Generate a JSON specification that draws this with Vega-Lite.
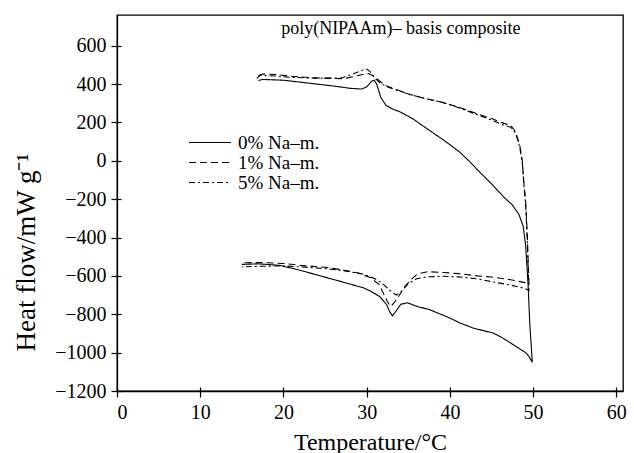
{
  "$schema": "https://vega.github.io/schema/vega-lite/v6.json",
  "width": 506,
  "height": 376,
  "autosize": {"type": "none"},
  "padding": {"left": 117, "top": 15, "right": 11, "bottom": 62},
  "background": "white",
  "config": {
    "view": {"stroke": "black", "strokeWidth": 1.3},
    "axis": {
      "grid": false,
      "domainColor": "black",
      "domainWidth": 1.3,
      "tickColor": "black",
      "tickWidth": 1.2,
      "tickSize": 6,
      "labelFont": "Liberation Serif",
      "labelFontSize": 20,
      "labelColor": "black",
      "titleFont": "Liberation Serif",
      "titleFontSize": 24,
      "titleFontWeight": "normal",
      "titleColor": "black"
    }
  },
  "layer": [
    {
      "data": {
        "values": [
          {"s": "0% Na–m.", "i": 1, "t": 17.0, "h": 418},
          {"s": "0% Na–m.", "i": 2, "t": 17.5, "h": 424},
          {"s": "0% Na–m.", "i": 3, "t": 20, "h": 420},
          {"s": "0% Na–m.", "i": 4, "t": 23, "h": 405},
          {"s": "0% Na–m.", "i": 5, "t": 26, "h": 390},
          {"s": "0% Na–m.", "i": 6, "t": 28, "h": 378},
          {"s": "0% Na–m.", "i": 7, "t": 29.4, "h": 374},
          {"s": "0% Na–m.", "i": 8, "t": 30.0, "h": 385},
          {"s": "0% Na–m.", "i": 9, "t": 30.6, "h": 415},
          {"s": "0% Na–m.", "i": 10, "t": 30.9, "h": 420},
          {"s": "0% Na–m.", "i": 11, "t": 31.2, "h": 400},
          {"s": "0% Na–m.", "i": 12, "t": 31.7, "h": 330},
          {"s": "0% Na–m.", "i": 13, "t": 32.3, "h": 290},
          {"s": "0% Na–m.", "i": 14, "t": 33, "h": 272},
          {"s": "0% Na–m.", "i": 15, "t": 34, "h": 255},
          {"s": "0% Na–m.", "i": 16, "t": 35.5, "h": 220},
          {"s": "0% Na–m.", "i": 17, "t": 37.5, "h": 160},
          {"s": "0% Na–m.", "i": 18, "t": 39.5, "h": 100},
          {"s": "0% Na–m.", "i": 19, "t": 41.2, "h": 45},
          {"s": "0% Na–m.", "i": 20, "t": 42.5, "h": -10},
          {"s": "0% Na–m.", "i": 21, "t": 43.5, "h": -55},
          {"s": "0% Na–m.", "i": 22, "t": 45, "h": -120},
          {"s": "0% Na–m.", "i": 23, "t": 46.5, "h": -190},
          {"s": "0% Na–m.", "i": 24, "t": 47.5, "h": -230},
          {"s": "0% Na–m.", "i": 25, "t": 48.3, "h": -280},
          {"s": "0% Na–m.", "i": 26, "t": 48.8, "h": -340},
          {"s": "0% Na–m.", "i": 27, "t": 49.1, "h": -440},
          {"s": "0% Na–m.", "i": 28, "t": 49.4, "h": -650},
          {"s": "0% Na–m.", "i": 29, "t": 49.6, "h": -850},
          {"s": "0% Na–m.", "i": 30, "t": 49.9, "h": -1050},
          {"s": "0% Na–m.", "i": 31, "t": 49.5, "h": -1020},
          {"s": "0% Na–m.", "i": 32, "t": 49.1, "h": -1000},
          {"s": "0% Na–m.", "i": 33, "t": 48.2, "h": -975},
          {"s": "0% Na–m.", "i": 34, "t": 47.3, "h": -950},
          {"s": "0% Na–m.", "i": 35, "t": 46.2, "h": -920},
          {"s": "0% Na–m.", "i": 36, "t": 45.2, "h": -898},
          {"s": "0% Na–m.", "i": 37, "t": 44, "h": -885},
          {"s": "0% Na–m.", "i": 38, "t": 42.8, "h": -872},
          {"s": "0% Na–m.", "i": 39, "t": 41.2, "h": -845},
          {"s": "0% Na–m.", "i": 40, "t": 40, "h": -820},
          {"s": "0% Na–m.", "i": 41, "t": 39.2, "h": -805},
          {"s": "0% Na–m.", "i": 42, "t": 37.5, "h": -775},
          {"s": "0% Na–m.", "i": 43, "t": 36.1, "h": -760},
          {"s": "0% Na–m.", "i": 44, "t": 34.9, "h": -740},
          {"s": "0% Na–m.", "i": 45, "t": 34.1, "h": -748},
          {"s": "0% Na–m.", "i": 46, "t": 33.5, "h": -785},
          {"s": "0% Na–m.", "i": 47, "t": 33.1, "h": -808},
          {"s": "0% Na–m.", "i": 48, "t": 32.8, "h": -790},
          {"s": "0% Na–m.", "i": 49, "t": 32.4, "h": -750},
          {"s": "0% Na–m.", "i": 50, "t": 31.6, "h": -709},
          {"s": "0% Na–m.", "i": 51, "t": 30.5, "h": -680},
          {"s": "0% Na–m.", "i": 52, "t": 29.6, "h": -662},
          {"s": "0% Na–m.", "i": 53, "t": 27.2, "h": -633},
          {"s": "0% Na–m.", "i": 54, "t": 23.2, "h": -585},
          {"s": "0% Na–m.", "i": 55, "t": 21, "h": -560},
          {"s": "0% Na–m.", "i": 56, "t": 19.5, "h": -545},
          {"s": "0% Na–m.", "i": 57, "t": 17, "h": -537},
          {"s": "0% Na–m.", "i": 58, "t": 15, "h": -540},

          {"s": "1% Na–m.", "i": 1, "t": 17.0, "h": 445},
          {"s": "1% Na–m.", "i": 2, "t": 17.5, "h": 452},
          {"s": "1% Na–m.", "i": 3, "t": 19, "h": 450},
          {"s": "1% Na–m.", "i": 4, "t": 21, "h": 440},
          {"s": "1% Na–m.", "i": 5, "t": 24, "h": 432},
          {"s": "1% Na–m.", "i": 6, "t": 27.2, "h": 428},
          {"s": "1% Na–m.", "i": 7, "t": 28.5, "h": 440},
          {"s": "1% Na–m.", "i": 8, "t": 29.5, "h": 450},
          {"s": "1% Na–m.", "i": 9, "t": 30.2, "h": 455},
          {"s": "1% Na–m.", "i": 10, "t": 30.7, "h": 445},
          {"s": "1% Na–m.", "i": 11, "t": 31.3, "h": 425},
          {"s": "1% Na–m.", "i": 12, "t": 32, "h": 400},
          {"s": "1% Na–m.", "i": 13, "t": 32.5, "h": 388},
          {"s": "1% Na–m.", "i": 14, "t": 33.5, "h": 372},
          {"s": "1% Na–m.", "i": 15, "t": 35.2, "h": 346},
          {"s": "1% Na–m.", "i": 16, "t": 37, "h": 325},
          {"s": "1% Na–m.", "i": 17, "t": 39.2, "h": 304},
          {"s": "1% Na–m.", "i": 18, "t": 41, "h": 280},
          {"s": "1% Na–m.", "i": 19, "t": 43.3, "h": 245},
          {"s": "1% Na–m.", "i": 20, "t": 45, "h": 220},
          {"s": "1% Na–m.", "i": 21, "t": 46.5, "h": 195},
          {"s": "1% Na–m.", "i": 22, "t": 47.3, "h": 185},
          {"s": "1% Na–m.", "i": 23, "t": 47.9, "h": 150},
          {"s": "1% Na–m.", "i": 24, "t": 48.4, "h": 80},
          {"s": "1% Na–m.", "i": 25, "t": 48.7, "h": 0},
          {"s": "1% Na–m.", "i": 26, "t": 48.9, "h": -120},
          {"s": "1% Na–m.", "i": 27, "t": 49.1, "h": -210},
          {"s": "1% Na–m.", "i": 28, "t": 49.3, "h": -380},
          {"s": "1% Na–m.", "i": 29, "t": 49.4, "h": -520},
          {"s": "1% Na–m.", "i": 30, "t": 49.5, "h": -645},
          {"s": "1% Na–m.", "i": 31, "t": 49.0, "h": -635},
          {"s": "1% Na–m.", "i": 32, "t": 47.3, "h": -620},
          {"s": "1% Na–m.", "i": 33, "t": 45, "h": -606},
          {"s": "1% Na–m.", "i": 34, "t": 43.3, "h": -600},
          {"s": "1% Na–m.", "i": 35, "t": 41, "h": -588},
          {"s": "1% Na–m.", "i": 36, "t": 39.2, "h": -582},
          {"s": "1% Na–m.", "i": 37, "t": 37.3, "h": -578},
          {"s": "1% Na–m.", "i": 38, "t": 36.1, "h": -590},
          {"s": "1% Na–m.", "i": 39, "t": 35.3, "h": -620},
          {"s": "1% Na–m.", "i": 40, "t": 34.5, "h": -660},
          {"s": "1% Na–m.", "i": 41, "t": 33.8, "h": -710},
          {"s": "1% Na–m.", "i": 42, "t": 33.2, "h": -745},
          {"s": "1% Na–m.", "i": 43, "t": 32.9, "h": -760},
          {"s": "1% Na–m.", "i": 44, "t": 32.5, "h": -735},
          {"s": "1% Na–m.", "i": 45, "t": 32.0, "h": -690},
          {"s": "1% Na–m.", "i": 46, "t": 31.5, "h": -645},
          {"s": "1% Na–m.", "i": 47, "t": 30.5, "h": -610},
          {"s": "1% Na–m.", "i": 48, "t": 29, "h": -585},
          {"s": "1% Na–m.", "i": 49, "t": 27, "h": -568},
          {"s": "1% Na–m.", "i": 50, "t": 25, "h": -555},
          {"s": "1% Na–m.", "i": 51, "t": 22, "h": -545},
          {"s": "1% Na–m.", "i": 52, "t": 20, "h": -535},
          {"s": "1% Na–m.", "i": 53, "t": 17, "h": -530},
          {"s": "1% Na–m.", "i": 54, "t": 15, "h": -532},

          {"s": "5% Na–m.", "i": 1, "t": 16.8, "h": 430},
          {"s": "5% Na–m.", "i": 2, "t": 17.2, "h": 445},
          {"s": "5% Na–m.", "i": 3, "t": 19, "h": 442},
          {"s": "5% Na–m.", "i": 4, "t": 21, "h": 435},
          {"s": "5% Na–m.", "i": 5, "t": 24, "h": 430},
          {"s": "5% Na–m.", "i": 6, "t": 27, "h": 432},
          {"s": "5% Na–m.", "i": 7, "t": 28.5, "h": 455},
          {"s": "5% Na–m.", "i": 8, "t": 29.5, "h": 472},
          {"s": "5% Na–m.", "i": 9, "t": 30.0, "h": 478},
          {"s": "5% Na–m.", "i": 10, "t": 30.4, "h": 465},
          {"s": "5% Na–m.", "i": 11, "t": 31, "h": 430},
          {"s": "5% Na–m.", "i": 12, "t": 31.6, "h": 405},
          {"s": "5% Na–m.", "i": 13, "t": 32.5, "h": 385},
          {"s": "5% Na–m.", "i": 14, "t": 33.5, "h": 370},
          {"s": "5% Na–m.", "i": 15, "t": 35.2, "h": 345},
          {"s": "5% Na–m.", "i": 16, "t": 37, "h": 325},
          {"s": "5% Na–m.", "i": 17, "t": 39.2, "h": 303},
          {"s": "5% Na–m.", "i": 18, "t": 41, "h": 278},
          {"s": "5% Na–m.", "i": 19, "t": 43.3, "h": 240},
          {"s": "5% Na–m.", "i": 20, "t": 45, "h": 212},
          {"s": "5% Na–m.", "i": 21, "t": 46.5, "h": 185},
          {"s": "5% Na–m.", "i": 22, "t": 47.3, "h": 175},
          {"s": "5% Na–m.", "i": 23, "t": 47.9, "h": 145},
          {"s": "5% Na–m.", "i": 24, "t": 48.4, "h": 70},
          {"s": "5% Na–m.", "i": 25, "t": 48.7, "h": -10},
          {"s": "5% Na–m.", "i": 26, "t": 48.9, "h": -130},
          {"s": "5% Na–m.", "i": 27, "t": 49.1, "h": -230},
          {"s": "5% Na–m.", "i": 28, "t": 49.3, "h": -420},
          {"s": "5% Na–m.", "i": 29, "t": 49.4, "h": -560},
          {"s": "5% Na–m.", "i": 30, "t": 49.5, "h": -675},
          {"s": "5% Na–m.", "i": 31, "t": 49, "h": -665},
          {"s": "5% Na–m.", "i": 32, "t": 47.3, "h": -648},
          {"s": "5% Na–m.", "i": 33, "t": 45, "h": -630},
          {"s": "5% Na–m.", "i": 34, "t": 43.3, "h": -615},
          {"s": "5% Na–m.", "i": 35, "t": 41, "h": -605},
          {"s": "5% Na–m.", "i": 36, "t": 39.2, "h": -602},
          {"s": "5% Na–m.", "i": 37, "t": 37.3, "h": -605},
          {"s": "5% Na–m.", "i": 38, "t": 36, "h": -615},
          {"s": "5% Na–m.", "i": 39, "t": 35, "h": -640},
          {"s": "5% Na–m.", "i": 40, "t": 34.2, "h": -680},
          {"s": "5% Na–m.", "i": 41, "t": 33.6, "h": -700},
          {"s": "5% Na–m.", "i": 42, "t": 33.2, "h": -690},
          {"s": "5% Na–m.", "i": 43, "t": 32.6, "h": -668},
          {"s": "5% Na–m.", "i": 44, "t": 31.9, "h": -640},
          {"s": "5% Na–m.", "i": 45, "t": 31, "h": -615},
          {"s": "5% Na–m.", "i": 46, "t": 29.5, "h": -590},
          {"s": "5% Na–m.", "i": 47, "t": 27, "h": -572},
          {"s": "5% Na–m.", "i": 48, "t": 25, "h": -562},
          {"s": "5% Na–m.", "i": 49, "t": 22, "h": -553},
          {"s": "5% Na–m.", "i": 50, "t": 20, "h": -548},
          {"s": "5% Na–m.", "i": 51, "t": 17, "h": -550},
          {"s": "5% Na–m.", "i": 52, "t": 15, "h": -553}
        ]
      },
      "mark": {"type": "line", "color": "black", "strokeWidth": 1.1},
      "encoding": {
        "x": {
          "field": "t", "type": "quantitative",
          "scale": {"domain": [0, 60.8], "nice": false, "zero": false},
          "axis": {"values": [0, 10, 20, 30, 40, 50, 60], "title": "Temperature/°C", "titlePadding": 8, "labelPadding": 5}
        },
        "y": {
          "field": "h", "type": "quantitative",
          "scale": {"domain": [-1200, 760], "nice": false, "zero": false},
          "axis": {"values": [-1200, -1000, -800, -600, -400, -200, 0, 200, 400, 600], "format": "d", "title": "Heat flow/mW g⁻¹", "titleFontSize": 27, "titleX": -77, "titleY": 237, "labelPadding": 5}
        },
        "strokeDash": {
          "field": "s", "type": "nominal",
          "scale": {"domain": ["0% Na–m.", "1% Na–m.", "5% Na–m."], "range": [[1, 0], [7, 4], [6, 3, 2, 3]]},
          "legend": {
            "orient": "none", "legendX": 71, "legendY": 118, "title": null,
            "symbolType": "stroke", "symbolSize": 1764, "symbolStrokeColor": "black", "symbolStrokeWidth": 1.2,
            "clipHeight": 19, "rowPadding": 0,
            "labelFont": "Liberation Serif", "labelFontSize": 19, "labelColor": "black", "labelOffset": 6
          }
        },
        "order": {"field": "i", "type": "quantitative"}
      }
    },
    {
      "data": {"values": [{"label": "poly(NIPAAm)– basis composite", "t": 34.1, "h": 685}]},
      "mark": {"type": "text", "font": "Liberation Serif", "fontSize": 18, "color": "black", "baseline": "middle", "align": "center"},
      "encoding": {
        "x": {"field": "t", "type": "quantitative", "axis": {"orient": "bottom", "values": [0, 10, 20, 30, 40, 50, 60], "labels": false, "domain": false, "title": null, "tickSize": -4}},
        "y": {"field": "h", "type": "quantitative", "axis": {"orient": "left", "values": [-1200, -1000, -800, -600, -400, -200, 0, 200, 400, 600], "labels": false, "domain": false, "title": null, "tickSize": -4}},
        "text": {"field": "label"}
      }
    }
  ],
  "resolve": {"axis": {"x": "independent", "y": "independent"}}
}
